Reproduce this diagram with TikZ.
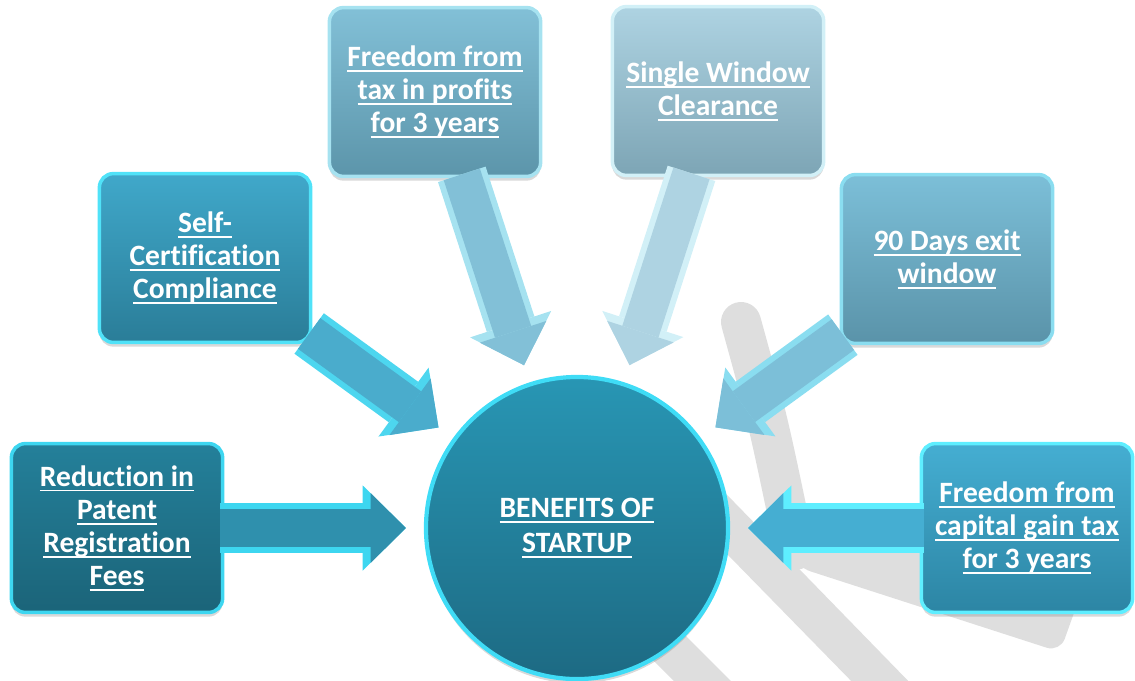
\documentclass[tikz,border=0pt]{standalone}
\usepackage{fontspec}
\setmainfont{Carlito}[Ligatures=NoCommon]
\usetikzlibrary{arrows.meta, shadows}

\definecolor{backgray}{HTML}{DEDEDE}
\definecolor{patentrim}{HTML}{3DD6F0}
\definecolor{patenttop}{HTML}{24809A}
\definecolor{patentbottom}{HTML}{1B6479}
\definecolor{selfrim}{HTML}{50E2F8}
\definecolor{selftop}{HTML}{40A8CA}
\definecolor{selfbottom}{HTML}{2A7D98}
\definecolor{taxrim}{HTML}{A6E2F0}
\definecolor{taxtop}{HTML}{82C0D7}
\definecolor{taxbottom}{HTML}{5C95AA}
\definecolor{windowrim}{HTML}{D2F0F7}
\definecolor{windowtop}{HTML}{AED3E2}
\definecolor{windowbottom}{HTML}{7DA5B5}
\definecolor{exitrim}{HTML}{8ADDF0}
\definecolor{exittop}{HTML}{7CBFD8}
\definecolor{exitbottom}{HTML}{5A93A9}
\definecolor{caprim}{HTML}{5EEEFF}
\definecolor{captop}{HTML}{45AED2}
\definecolor{capbottom}{HTML}{2C85A4}
\definecolor{hubrim}{HTML}{3FDCF6}
\definecolor{hubtop}{HTML}{2896B4}
\definecolor{hubbottom}{HTML}{1D6A83}

\newsavebox\ulbox
\newcommand\ulin[1]{\sbox\ulbox{#1}\rlap{\rule[-3.8pt]{\wd\ulbox}{1.3pt}}\usebox\ulbox}

\begin{document}
\begin{tikzpicture}[
        x=0.025cm, y=-0.025cm,
        backdrop/.style={fill=backgray},
        benefit/.style n args={3}{rectangle, rounded corners=0.35cm, minimum width=5.28cm, minimum height=4.22cm,
            draw=#1, line width=2.5pt, top color=#2, bottom color=#3, text=white, align=center,
            font=\fontsize{21}{23.5}\selectfont\bfseries,
            drop shadow={opacity=0.3, shadow xshift=0pt, shadow yshift=-3pt}},
        hub/.style={circle, minimum size=7.55cm, draw=hubrim, line width=3pt, top color=hubtop, bottom color=hubbottom,
            text=white, align=center, font=\fontsize{21}{25}\selectfont\bfseries,
            drop shadow={opacity=0.3, shadow xshift=0pt, shadow yshift=-3pt}},
        pointer/.style={draw=#1, line width=1.25cm, shorten >=0.45cm, shorten <=-0.1cm,
            -{Triangle[length=1.08cm, width=2.13cm, line width=0pt]}},
        pointer core/.style={draw=#1, line width=0.95cm, shorten >=0.45cm, shorten <=-0.1cm,
            -{Triangle[length=0.88cm, width=1.75cm, line width=0pt]}}
    ]
    \clip (0,0) rectangle (1135,680);

    \fill[backdrop] (553,560) -- (683,690) -- (740,690) -- (610,560) -- cycle;
    \fill[backdrop] (640,465) -- (860,690) -- (917,690) -- (698,465) -- cycle;
    \fill[backdrop, rounded corners=0.35cm] (775,512) -- (1080,596) -- (1060,652) -- (797,567) -- cycle;
    \draw[backgray, line width=1cm, line cap=round] (741,322) .. controls (768,420) .. (795,550);

    \node[benefit={patentrim}{patenttop}{patentbottom}] (patent) at (117,528)
        {\ulin{Reduction in}\\\ulin{Patent}\\\ulin{Registration}\\\ulin{Fees}};
    \node[benefit={selfrim}{selftop}{selfbottom}] (selfcert) at (205,258)
        {\ulin{Self-}\\\ulin{Certification}\\\ulin{Compliance}};
    \node[benefit={taxrim}{taxtop}{taxbottom}] (taxfree) at (435,92)
        {\ulin{Freedom from}\\\ulin{tax in profits}\\\ulin{for 3 years}};
    \node[benefit={windowrim}{windowtop}{windowbottom}] (window) at (718,91)
        {\ulin{Single Window}\\\ulin{Clearance}};
    \node[benefit={exitrim}{exittop}{exitbottom}] (exit) at (947,259)
        {\ulin{90 Days exit}\\\ulin{window}};
    \node[benefit={caprim}{captop}{capbottom}] (capgain) at (1027,528)
        {\ulin{Freedom from}\\\ulin{capital gain tax}\\\ulin{for 3 years}};

    \node[hub] (hub) at (577,528) {\ulin{BENEFITS OF}\\\ulin{STARTUP}};

    \draw[pointer=patentrim] (patent) -- (hub);
    \draw[pointer core=patenttop!60!selftop] (patent) -- (hub);
    \draw[pointer=selfrim!80!selftop] (selfcert) -- (hub);
    \draw[pointer core=selftop!85!taxtop] (selfcert) -- (hub);
    \draw[pointer=taxrim] (taxfree) -- (hub);
    \draw[pointer core=taxtop] (taxfree) -- (hub);
    \draw[pointer=windowrim] (window) -- (hub);
    \draw[pointer core=windowtop] (window) -- (hub);
    \draw[pointer=exitrim] (exit) -- (hub);
    \draw[pointer core=exittop] (exit) -- (hub);
    \draw[pointer=caprim] (capgain) -- (hub);
    \draw[pointer core=captop] (capgain) -- (hub);
\end{tikzpicture}
\end{document}
